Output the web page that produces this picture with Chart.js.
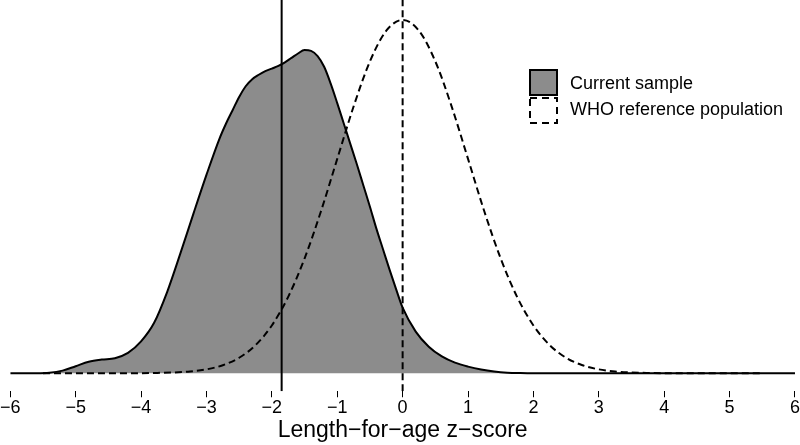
<!DOCTYPE html>
<html>
<head>
<meta charset="utf-8">
<script src="https://cdn.jsdelivr.net/npm/chart.js@4"></script>
<style>
  html, body { margin: 0; padding: 0; background: #fff; }
</style>
</head>
<body>
<canvas id="zscore" width="800" height="445"></canvas>
<script>
// density of the current sample
const sampleZ = [-6, -5.6, -5.4, -5.2, -5.0, -4.8, -4.6, -4.4, -4.2, -4.0, -3.8, -3.6, -3.4, -3.2, -3.0,
  -2.8, -2.7, -2.6, -2.5, -2.4, -2.3, -2.2, -2.1, -2.0, -1.9, -1.8, -1.7, -1.6, -1.5, -1.4, -1.3, -1.2, -1.1, -1.0,
  -0.9, -0.8, -0.7, -0.6, -0.5, -0.4, -0.3, -0.2, -0.1, 0.0, 0.2, 0.4, 0.6, 0.8, 1.0,
  1.2, 1.4, 1.6, 1.8, 2.0, 6];
const sampleDensity = [0, 0, 0.0005, 0.003, 0.008, 0.013, 0.0155, 0.017, 0.023, 0.036, 0.057, 0.092, 0.135, 0.180, 0.224,
  0.265, 0.282, 0.297, 0.312, 0.324, 0.332, 0.337, 0.341, 0.344, 0.347, 0.351, 0.356, 0.361, 0.365, 0.364, 0.358, 0.346, 0.327, 0.305,
  0.282, 0.259, 0.236, 0.212, 0.188, 0.163, 0.140, 0.117, 0.095, 0.074, 0.047, 0.030, 0.019, 0.012, 0.0075,
  0.0042, 0.002, 0.0007, 0.0002, 0, 0];

// WHO reference population
const whoZ = [-5.5, -4.0, -3.75, -3.5, -3.25, -3.0, -2.75, -2.5, -2.25, -2.0, -1.75, -1.5, -1.25, -1.0, -0.75, -0.5, -0.25,
  0, 0.25, 0.5, 0.75, 1.0, 1.25, 1.5, 1.75, 2.0, 2.25, 2.5, 2.75, 3.0, 3.25, 3.5, 3.75, 4.0, 5.5];
const whoDensity = [0, 0.0001, 0.0004, 0.0009, 0.0020, 0.0044, 0.0091, 0.0175, 0.0317, 0.0540, 0.0863, 0.1295, 0.1826, 0.2420, 0.3011, 0.3521, 0.3867,
  0.3989, 0.3867, 0.3521, 0.3011, 0.2420, 0.1826, 0.1295, 0.0863, 0.0540, 0.0317, 0.0175, 0.0091, 0.0044, 0.0020, 0.0009, 0.0004, 0.0001, 0];

const xTicks = [-6, -5, -4, -3, -2, -1, 0, 1, 2, 3, 4, 5, 6];
const legendLabels = ['Current sample', 'WHO reference population'];
const sampleMedian = -1.85;
const whoMedian = 0;

const yMin = -0.0203, yMax = 0.4214;
const fillGrey = '#8c8c8c';

function pts(xs, ys) { return xs.map((x, i) => ({x: x, y: ys[i]})); }

const legendBox = {
  id: 'legendBox',
  afterDraw(chart) {
    const ctx = chart.ctx;
    ctx.save();
    ctx.lineWidth = 2;
    ctx.strokeStyle = '#000';
    ctx.fillStyle = fillGrey;
    ctx.fillRect(530, 70, 27, 25);
    ctx.strokeRect(530, 70, 27, 25);
    ctx.setLineDash([7, 5]);
    ctx.strokeRect(530, 98, 27, 25);
    ctx.setLineDash([]);
    ctx.fillStyle = '#000';
    ctx.font = '18px "Liberation Sans", Arial, sans-serif';
    ctx.textBaseline = 'alphabetic';
    ctx.fillText(legendLabels[0], 570, 89);
    ctx.fillText(legendLabels[1], 570, 115);
    ctx.restore();
  }
};

new Chart(document.getElementById('zscore'), {
  type: 'line',
  data: {
    datasets: [
      {
        data: pts([sampleMedian, sampleMedian], [yMin, yMax]),
        borderColor: '#000', borderWidth: 2, pointRadius: 0, order: 1
      },
      {
        data: pts([whoMedian, whoMedian], [yMin, yMax]),
        borderColor: '#000', borderWidth: 2, borderDash: [7, 4], pointRadius: 0, order: 2
      },
      {
        label: legendLabels[1],
        data: pts(whoZ, whoDensity),
        borderColor: '#000', borderWidth: 2, borderDash: [7, 4],
        pointRadius: 0, cubicInterpolationMode: 'monotone', order: 3
      },
      {
        label: legendLabels[0],
        data: pts(sampleZ, sampleDensity),
        borderColor: '#000', borderWidth: 2, backgroundColor: fillGrey, fill: 'origin',
        pointRadius: 0, cubicInterpolationMode: 'monotone', order: 4
      }
    ]
  },
  options: {
    responsive: false,
    animation: false,
    devicePixelRatio: 1,
    layout: { padding: { top: 0, left: 0, right: 0, bottom: 0 } },
    plugins: { legend: { display: false }, tooltip: { enabled: false } },
    scales: {
      x: {
        type: 'linear', min: -6, max: 6,
        afterBuildTicks: (s) => { s.ticks = xTicks.map(v => ({value: v})); },
        ticks: {
          color: '#000', padding: 0,
          font: { family: '"Liberation Sans", Arial, sans-serif', size: 18 },
          callback: (v) => String(v).replace('-', '\u2212')
        },
        grid: { drawOnChartArea: false, tickLength: 6, color: '#000', tickWidth: 1 },
        border: { display: false },
        title: {
          display: true, text: 'Length\u2212for\u2212age z\u2212score', color: '#000',
          font: { family: '"Liberation Sans", Arial, sans-serif', size: 23, lineHeight: 1.05 },
          padding: { top: 0, bottom: 2 }
        }
      },
      y: { display: false, min: yMin, max: yMax }
    }
  },
  plugins: [legendBox]
});
</script>
</body>
</html>
